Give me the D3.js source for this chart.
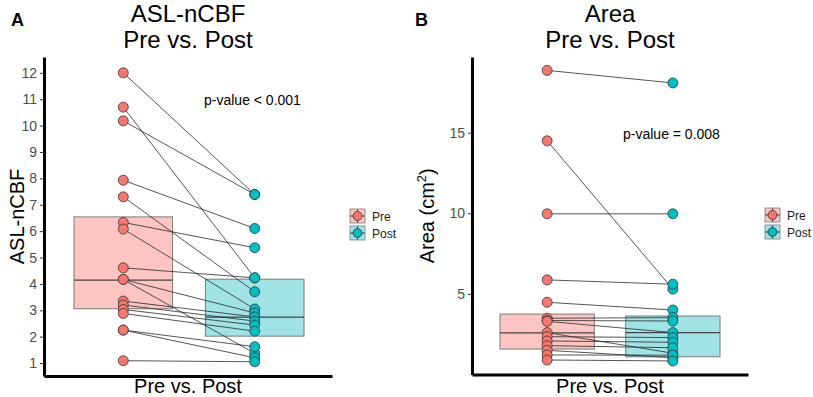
<!DOCTYPE html>
<html>
<head>
<meta charset="utf-8">
<script src="https://cdn.jsdelivr.net/npm/d3@7"></script>
<style>
  body { margin: 0; background: #fff; }
  svg { font-family: "Liberation Sans", Arial, sans-serif; }
</style>
</head>
<body>
<div id="chart"></div>
<script>
// groups
const groups = ["Pre", "Post"];

// Panel A: ASL-nCBF, each index is one subject (pre -> post)
const cbfPre  = [12.0, 10.7, 10.18, 7.93, 7.3, 6.33, 6.08, 4.61, 4.17, 4.17, 3.35, 3.2, 3.03, 2.88, 2.25, 2.25, 1.09];
const cbfPost = [7.39, 4.23, 7.39, 6.1, 3.7, 5.37, 3.05, 4.23, 2.9, 1.37, 2.75, 2.59, 2.44, 2.21, 1.62, 1.2, 1.05];
// box: [low, middle, high]
const cbfBoxPre  = [3.06, 4.14, 6.54];
const cbfBoxPost = [2.02, 2.74, 4.18];
const cbfTicks = [1, 2, 3, 4, 5, 6, 7, 8, 9, 10, 11, 12];

// Panel B: Area (cm2)
const areaPre  = [18.87, 14.5, 9.97, 5.87, 4.48, 3.49, 3.35, 3.3, 2.6, 2.35, 2.08, 1.79, 1.5, 1.21, 0.9];
const areaPost = [18.09, 5.3, 9.97, 5.6, 4.0, 3.53, 3.32, 2.6, 1.32, 2.29, 2.0, 1.66, 1.04, 1.2, 0.84];
const areaBoxPre  = [1.58, 2.58, 3.75];
const areaBoxPost = [1.1, 2.6, 3.63];
const areaTicks = [5, 10, 15];

const colors = { Pre: "#F8766D", Post: "#00BFC4" };
const boxFill = { Pre: "#fcc5c1", Post: "#9fe3e6" };

const svg = d3.select("#chart").append("svg")
    .attr("width", 813)
    .attr("height", 397);

function drawPanel(o) {
  const g = svg.append("g");

  const y = d3.scaleLinear().domain(o.yDomain).range([o.bottom, o.top]);
  const x = d3.scaleBand().domain(groups).range(o.bandRange).paddingInner(0.25);
  const cx = k => x(k) + x.bandwidth() / 2;

  // boxes
  const boxes = [{ k: "Pre", b: o.boxPre }, { k: "Post", b: o.boxPost }];
  g.selectAll(".box").data(boxes).join("rect")
      .attr("x", d => x(d.k))
      .attr("width", x.bandwidth())
      .attr("y", d => y(d.b[2]))
      .attr("height", d => y(d.b[0]) - y(d.b[2]))
      .attr("fill", d => boxFill[d.k])
      .attr("stroke", "#7a7a7a")
      .attr("stroke-width", 1);
  g.selectAll(".mid").data(boxes).join("line")
      .attr("x1", d => x(d.k))
      .attr("x2", d => x(d.k) + x.bandwidth())
      .attr("y1", d => y(d.b[1]))
      .attr("y2", d => y(d.b[1]))
      .attr("stroke", "#444")
      .attr("stroke-width", 1.3);

  // paired lines
  const pairs = o.pre.map((v, i) => ({ pre: v, post: o.post[i] }));
  g.selectAll(".pair").data(pairs).join("line")
      .attr("x1", cx("Pre"))
      .attr("x2", cx("Post"))
      .attr("y1", d => y(d.pre))
      .attr("y2", d => y(d.post))
      .attr("stroke", "#2a2a2a")
      .attr("stroke-width", 0.8);

  // points
  const pts = o.pre.map(v => ({ k: "Pre", v })).concat(o.post.map(v => ({ k: "Post", v })));
  g.selectAll(".pt").data(pts).join("circle")
      .attr("cx", d => cx(d.k))
      .attr("cy", d => y(d.v))
      .attr("r", 5)
      .attr("fill", d => colors[d.k])
      .attr("stroke", "#333")
      .attr("stroke-width", 0.8);

  // axes
  const yAxis = g.append("g")
      .attr("transform", `translate(${o.left},0)`)
      .call(d3.axisLeft(y).tickValues(o.ticks).tickSize(4).tickSizeOuter(0).tickPadding(3));
  yAxis.select(".domain").attr("stroke", "#000").attr("stroke-width", 3);
  yAxis.selectAll(".tick line").attr("stroke", "#333");
  yAxis.selectAll(".tick text").attr("fill", "#4d4d4d")
      .style("font-family", "'Liberation Sans', Arial, sans-serif").style("font-size", "14px");

  const xAxis = g.append("g")
      .attr("transform", `translate(0,${o.bottom})`)
      .call(d3.axisBottom(d3.scaleLinear().range([o.left, o.right])).tickValues([]).tickSizeOuter(0));
  xAxis.select(".domain").attr("stroke", "#000").attr("stroke-width", 3);

  // texts
  const mid = (o.left + o.right) / 2;
  g.append("text").attr("x", mid).attr("y", 22).attr("text-anchor", "middle")
      .style("font-size", "24px").text(o.title);
  g.append("text").attr("x", mid).attr("y", 48).attr("text-anchor", "middle")
      .style("font-size", "24px").text("Pre vs. Post");
  g.append("text").attr("x", mid).attr("y", 393).attr("text-anchor", "middle")
      .style("font-size", "20px").text("Pre vs. Post");
  g.append("text").attr("x", o.panelX).attr("y", 26)
      .style("font-size", "18px").style("font-weight", "bold").text(o.panel);

  const yl = g.append("text")
      .attr("transform", `translate(${o.ylabX},${(o.top + o.bottom) / 2}) rotate(-90)`)
      .attr("text-anchor", "middle")
      .style("font-size", "20px");
  yl.append("tspan").text(o.ylab);
  if (o.sup) {
    yl.append("tspan").attr("dy", -8).style("font-size", "13px").text(o.sup);
    yl.append("tspan").attr("dy", 8).text(")");
  }

  g.append("text").attr("x", o.pX).attr("y", o.pY)
      .style("font-size", "14px").text(o.pText);

  // legend
  const leg = g.append("g").attr("transform", `translate(${o.legX},${o.legY})`);
  groups.forEach((k, i) => {
    const row = leg.append("g").attr("transform", `translate(0,${i * 17})`);
    row.append("rect").attr("x", 0).attr("y", -7).attr("width", 15).attr("height", 14)
        .attr("fill", boxFill[k]).attr("stroke", "#7a7a7a").attr("stroke-width", 0.8);
    row.append("line").attr("x1", 7.5).attr("x2", 7.5).attr("y1", -7).attr("y2", 7)
        .attr("stroke", "#333").attr("stroke-width", 0.8);
    row.append("line").attr("x1", 0).attr("x2", 15).attr("y1", 0).attr("y2", 0)
        .attr("stroke", "#444").attr("stroke-width", 1);
    row.append("circle").attr("cx", 7.5).attr("cy", 0).attr("r", 4.5)
        .attr("fill", colors[k]).attr("stroke", "#333").attr("stroke-width", 0.8);
    row.append("text").attr("x", 22).attr("y", 4.5).style("font-size", "12px")
        .attr("fill", "#1a1a1a").text(k);
  });
}

drawPanel({
  panel: "A", panelX: 11, title: "ASL-nCBF", ylab: "ASL-nCBF", ylabX: 24,
  pre: cbfPre, post: cbfPost, boxPre: cbfBoxPre, boxPost: cbfBoxPost,
  ticks: cbfTicks, yDomain: [0.51, 12.6], top: 57, bottom: 376,
  left: 44, right: 332, bandRange: [74, 304],
  pText: "p-value < 0.001", pX: 204, pY: 105,
  legX: 350, legY: 216
});

drawPanel({
  panel: "B", panelX: 415, title: "Area", ylab: "Area (cm", sup: "2", ylabX: 434,
  pre: areaPre, post: areaPost, boxPre: areaBoxPre, boxPost: areaBoxPost,
  ticks: areaTicks, yDomain: [0, 19.7], top: 57, bottom: 374.5,
  left: 472, right: 748, bandRange: [500, 720],
  pText: "p-value = 0.008", pX: 623, pY: 139,
  legX: 765, legY: 215
});
</script>
</body>
</html>
